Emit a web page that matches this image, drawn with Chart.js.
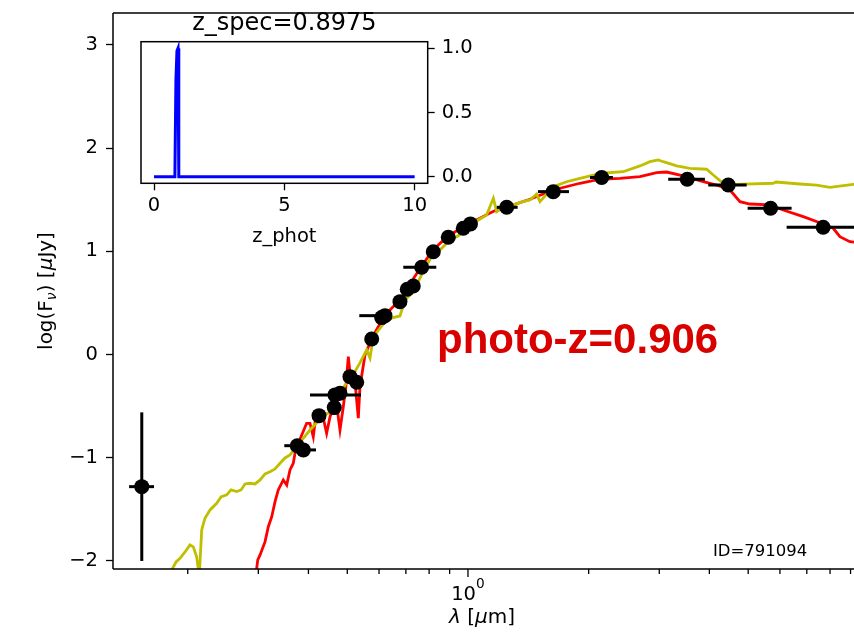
<!DOCTYPE html>
<html><head><meta charset="utf-8">
<script src="https://cdn.jsdelivr.net/npm/chart.js@4.4.0/dist/chart.umd.min.js"></script>
<style>
html,body{margin:0;padding:0;background:#fff;}
#wrap{position:relative;width:854px;height:636px;overflow:hidden;background:#fff;}
canvas{position:absolute;left:0;top:0;}
</style></head><body>
<div id="wrap"><canvas id="main" width="854" height="636" style="width:854px;height:636px"></canvas><canvas id="inset" width="854" height="636" style="width:854px;height:636px"></canvas></div>
<script>
// ---------- data ----------
const yellowLam = [0.1817,0.1870,0.1913,0.1969,0.2026,0.2065,0.2105,0.2137,0.2167,0.2208,0.2273,0.2362,0.2421,0.2502,0.2564,0.2649,0.2716,0.2779,0.2860,0.2943,0.3030,0.3118,0.3208,0.3302,0.3398,0.3497,0.3598,0.3748,0.4036,0.4349,0.4529,0.4706,0.4935,0.5078,0.5378,0.5590,0.5696,0.5805,0.6209,0.6462,0.6766,0.6966,0.7248,0.7505,0.7812,0.8132,0.8516,0.9018,0.9442,0.9829,1.041,1.113,1.157,1.179,1.237,1.297,1.363,1.428,1.483,1.512,1.632,1.762,1.902,2.155,2.439,2.685,2.844,2.983,3.069,3.315,3.578,3.938,4.090,4.332,4.679,5.772,5.862,6.729,7.406,7.991,9.139,10.06];
const yellowFlux = [-2.10,-2.010,-1.974,-1.913,-1.845,-1.864,-1.961,-2.15,-1.700,-1.586,-1.506,-1.441,-1.380,-1.360,-1.312,-1.328,-1.312,-1.254,-1.247,-1.254,-1.215,-1.157,-1.135,-1.109,-1.053,-1.002,-0.973,-0.886,-0.731,-0.595,-0.556,-0.440,-0.295,-0.246,-0.081,0.045,-0.033,0.173,0.316,0.355,0.374,0.529,0.597,0.703,0.839,0.955,1.014,1.110,1.149,1.207,1.285,1.353,1.515,1.385,1.440,1.450,1.479,1.498,1.556,1.482,1.627,1.675,1.708,1.757,1.772,1.828,1.869,1.886,1.869,1.828,1.805,1.796,1.740,1.660,1.650,1.660,1.672,1.653,1.643,1.621,1.650,1.663];

const redLam = [0.2961,0.2990,0.3030,0.3118,0.3177,0.3240,0.3302,0.3364,0.3462,0.3531,0.3598,0.3667,0.3703,0.3774,0.3959,0.4036,0.4113,0.4177,0.4323,0.4441,0.4529,0.4686,0.4795,0.4887,0.4964,0.5030,0.5108,0.5227,0.5327,0.5378,0.5535,0.5762,0.6209,0.6766,0.7166,0.7635,0.8180,0.8916,0.9829,1.071,1.135,1.202,1.297,1.428,1.632,1.902,2.134,2.393,2.685,2.955,3.130,3.443,3.863,4.172,4.503,4.768,5.049,5.664,6.113,6.859,7.548,8.147,8.465,8.965,10.06];
const redFlux = [-2.12,-1.990,-1.942,-1.813,-1.668,-1.571,-1.425,-1.312,-1.215,-1.264,-1.118,-1.053,-0.956,-0.860,-0.666,-0.666,-0.796,-0.585,-0.556,-0.763,-0.602,-0.440,-0.731,-0.505,-0.295,-0.020,-0.275,-0.266,-0.617,-0.311,-0.004,0.161,0.384,0.529,0.684,0.849,1.014,1.149,1.246,1.321,1.372,1.418,1.450,1.505,1.595,1.660,1.699,1.708,1.724,1.763,1.769,1.731,1.675,1.643,1.595,1.482,1.459,1.450,1.401,1.336,1.278,1.224,1.142,1.094,1.072];

const obsLam   = [0.1536,0.3752,0.3884,0.4250,0.4640,0.4659,0.4795,0.5078,0.5278,0.5753,0.6091,0.6209,0.6766,0.7056,0.7304,0.7665,0.8194,0.8930,0.9734,1.0144,1.249,1.632,2.155,3.523,4.458,5.686,7.69];
const obsFlux  = [-1.280,-0.883,-0.924,-0.592,-0.514,-0.391,-0.375,-0.214,-0.268,0.151,0.358,0.377,0.513,0.633,0.665,0.846,0.997,1.137,1.224,1.266,1.427,1.579,1.716,1.699,1.643,1.418,1.234];
const obsLamLo = [0.1428,0.3482,0.372,0.418,0.456,0.4036,0.472,0.500,0.520,0.566,0.600,0.5357,0.666,0.695,0.720,0.6897,0.808,0.881,0.962,1.000,1.18,1.495,2.015,3.158,3.975,4.984,6.234];
const obsLamHi = [0.1648,0.395,0.4178,0.432,0.472,0.5409,0.487,0.515,0.536,0.585,0.618,0.6389,0.687,0.716,0.741,0.8335,0.831,0.905,0.985,1.028,1.33,1.786,2.299,3.899,4.955,6.415,9.5];
const obsFluxErr = [0.72,0,0,0,0,0,0,0,0,0,0,0,0,0,0,0,0,0,0,0,0,0,0,0,0,0,0];

const pdfZ = [0, 0.80, 0.84, 0.88, 0.92, 0.95, 10];
const pdfP = [0, 0, 0.75, 0.98, 1.0, 0, 0];

const yTicks = [-2, -1, 0, 1, 2, 3];
const xMajorTicks = [1];
const xMinorTicks = [0.2,0.3,0.4,0.5,0.6,0.7,0.8,0.9,2,3,4,5,6,7,8,9];
const insetXTicks = [0, 5, 10];
const insetYTicks = [0, 0.5, 1.0];

const X_MIN = 0.1302, X_MAX = 9.18, Y_MIN = -2.078, Y_MAX = 3.31;
const ZX_MIN = -0.5, ZX_MAX = 10.5, ZY_MIN = -0.05, ZY_MAX = 1.05;

// ---------- helpers ----------
const FONT = 'DejaVu Sans';
function drawPieces(ctx, pieces, cx, baseline){
  let total = 0;
  pieces.forEach(p=>{ctx.font=p.f; p.w=ctx.measureText(p.t).width; total+=p.w;});
  let x = cx - total/2;
  ctx.textAlign='left'; ctx.textBaseline='alphabetic';
  pieces.forEach(p=>{ctx.font=p.f; ctx.fillText(p.t, x, baseline + (p.dy||0)); x+=p.w;});
}
const toXY = (xs, ys) => xs.map((x,i)=>({x:x, y:ys[i]}));
function noPad(s){ s.paddingTop=0; s.paddingBottom=0; s.paddingLeft=0; s.paddingRight=0; }

// ---------- main chart ----------
const mainDecor = {
  id:'mainDecor',
  beforeDatasetDraw(chart, args){
    if(args.index !== 2) return;
    const ctx = chart.ctx, xs = chart.scales.x, ys = chart.scales.y, a = chart.chartArea;
    ctx.save();
    ctx.beginPath(); ctx.rect(a.left, a.top, a.right-a.left, a.bottom-a.top); ctx.clip();
    ctx.strokeStyle='#000'; ctx.lineWidth=3; ctx.lineCap='butt';
    obsLam.forEach((l,i)=>{
      const py = ys.getPixelForValue(obsFlux[i]);
      ctx.beginPath();
      ctx.moveTo(xs.getPixelForValue(obsLamLo[i]), py);
      ctx.lineTo(xs.getPixelForValue(obsLamHi[i]), py);
      ctx.stroke();
      if(obsFluxErr[i]>0){
        const px = xs.getPixelForValue(l);
        ctx.beginPath();
        ctx.moveTo(px, ys.getPixelForValue(obsFlux[i]-obsFluxErr[i]));
        ctx.lineTo(px, ys.getPixelForValue(obsFlux[i]+obsFluxErr[i]));
        ctx.stroke();
      }
    });
    ctx.restore();
  },
  afterDraw(chart){
    const ctx = chart.ctx, xs = chart.scales.x, ys = chart.scales.y, a = chart.chartArea;
    ctx.save();
    ctx.strokeStyle='#000'; ctx.lineWidth=1.5;
    ctx.beginPath();
    ctx.moveTo(a.left, a.top); ctx.lineTo(a.right+2, a.top);
    ctx.moveTo(a.left, a.top); ctx.lineTo(a.left, a.bottom);
    ctx.moveTo(a.left, a.bottom); ctx.lineTo(a.right+2, a.bottom);
    ctx.stroke();
    ctx.lineWidth=1.3;
    xMajorTicks.forEach(v=>{const p=xs.getPixelForValue(v); ctx.beginPath(); ctx.moveTo(p,a.bottom); ctx.lineTo(p,a.bottom+8); ctx.stroke();});
    xMinorTicks.forEach(v=>{const p=xs.getPixelForValue(v); ctx.beginPath(); ctx.moveTo(p,a.bottom); ctx.lineTo(p,a.bottom+5); ctx.stroke();});
    ctx.fillStyle='#000';
    xMajorTicks.forEach(v=>{
      const p=xs.getPixelForValue(v);
      ctx.font='19.5px '+FONT; const w1=ctx.measureText('10').width;
      ctx.font='13.7px '+FONT; const w2=ctx.measureText('0').width;
      const x0=p-(w1+w2)/2;
      ctx.textAlign='left'; ctx.textBaseline='alphabetic';
      ctx.font='19.5px '+FONT; ctx.fillText('10', x0, a.bottom+31);
      ctx.font='13.7px '+FONT; ctx.fillText('0', x0+w1, a.bottom+19);
    });
    drawPieces(ctx,[
      {t:'\u03bb', f:'italic 20px '+FONT},
      {t:' [', f:'20px '+FONT},
      {t:'\u03bc', f:'italic 20px '+FONT},
      {t:'m]', f:'20px '+FONT}
    ], 482, 623);
    ctx.save();
    ctx.translate(51.5, (a.top+a.bottom)/2);
    ctx.rotate(-Math.PI/2);
    drawPieces(ctx,[
      {t:'log(F', f:'20px '+FONT},
      {t:'\u03bd', f:'italic 14px '+FONT, dy:4},
      {t:') [', f:'20px '+FONT},
      {t:'\u03bc', f:'italic 20px '+FONT},
      {t:'Jy]', f:'20px '+FONT}
    ], 0, 0);
    ctx.restore();
    ctx.textAlign='left'; ctx.textBaseline='alphabetic';
    ctx.fillStyle='#d90000';
    ctx.font='bold 42px "Liberation Sans", Arial, sans-serif';
    ctx.fillText('photo-z=0.906', xs.getPixelForValue(0.837), ys.getPixelForValue(0.016));
    ctx.fillStyle='#000';
    ctx.font='16.5px '+FONT;
    ctx.fillText('ID=791094', xs.getPixelForValue(4.083), ys.getPixelForValue(-1.952));
    ctx.restore();
  }
};

new Chart(document.getElementById('main'), {
  type:'scatter',
  data:{datasets:[
    {data:toXY(redLam, redFlux), showLine:true, borderColor:'#ff0000', borderWidth:2.8, pointRadius:0, tension:0, order:3},
    {data:toXY(yellowLam, yellowFlux), showLine:true, borderColor:'#bfbf00', borderWidth:2.8, pointRadius:0, tension:0, order:2},
    {data:toXY(obsLam, obsFlux), showLine:false, backgroundColor:'#000', borderColor:'#000', borderWidth:0, pointRadius:7.5, pointHoverRadius:7.5, order:1}
  ]},
  options:{
    responsive:false, animation:false, devicePixelRatio:1,
    layout:{autoPadding:false, padding:{left:0, right:0, top:13, bottom:0}},
    plugins:{legend:{display:false}, tooltip:{enabled:false}},
    scales:{
      x:{type:'logarithmic', min:X_MIN, max:X_MAX,
        grid:{display:false}, border:{display:false}, ticks:{display:false},
        afterBuildTicks:(s)=>{s.ticks = xMajorTicks.concat(xMinorTicks).sort((a,b)=>a-b).map(v=>({value:v}));},
        afterFit:(s)=>{s.height = 67; noPad(s);}},
      y:{type:'linear', min:Y_MIN, max:Y_MAX,
        grid:{display:true, drawOnChartArea:false, drawTicks:true, tickLength:7, tickColor:'#000', tickWidth:1.3},
        border:{display:false},
        ticks:{color:'#000', font:{family:FONT, size:19.5}, padding:8,
          callback:(v)=> (v<0 ? '\u2212'+Math.abs(v) : ''+v)},
        afterBuildTicks:(s)=>{s.ticks = yTicks.map(v=>({value:v}));},
        afterFit:(s)=>{s.width = 113; noPad(s);}}
    }
  },
  plugins:[mainDecor]
});

// ---------- inset chart ----------
const insetDecor = {
  id:'insetDecor',
  beforeDraw(chart){
    const ctx=chart.ctx, a=chart.chartArea;
    ctx.save(); ctx.fillStyle='#fff'; ctx.fillRect(a.left,a.top,a.right-a.left,a.bottom-a.top); ctx.restore();
  },
  afterDraw(chart){
    const ctx=chart.ctx, a=chart.chartArea;
    ctx.save();
    ctx.strokeStyle='#000'; ctx.lineWidth=1.5;
    ctx.strokeRect(a.left,a.top,a.right-a.left,a.bottom-a.top);
    ctx.fillStyle='#000'; ctx.textAlign='center'; ctx.textBaseline='alphabetic';
    ctx.font='24px '+FONT;
    ctx.fillText('z_spec=0.8975', (a.left+a.right)/2, 29.5);
    ctx.font='19.5px '+FONT;
    ctx.fillText('z_phot', (a.left+a.right)/2, 241.5);
    ctx.restore();
  }
};

new Chart(document.getElementById('inset'), {
  type:'scatter',
  data:{datasets:[
    {data:toXY(pdfZ, pdfP), showLine:true, borderColor:'#0000ff', borderWidth:3, pointRadius:0, tension:0}
  ]},
  options:{
    responsive:false, animation:false, devicePixelRatio:1,
    layout:{autoPadding:false, padding:{left:141, right:376.3, top:41.7, bottom:392.7}},
    plugins:{legend:{display:false}, tooltip:{enabled:false}},
    scales:{
      x:{type:'linear', min:ZX_MIN, max:ZX_MAX,
        grid:{display:true, drawOnChartArea:false, drawTicks:true, tickLength:7, tickColor:'#000', tickWidth:1.3},
        border:{display:false},
        ticks:{color:'#000', font:{family:FONT, size:19.5}, padding:4, maxRotation:0},
        afterBuildTicks:(s)=>{s.ticks = insetXTicks.map(v=>({value:v}));},
        afterFit:(s)=>{s.height = 60; noPad(s);}},
      y:{type:'linear', position:'right', min:ZY_MIN, max:ZY_MAX,
        grid:{display:true, drawOnChartArea:false, drawTicks:true, tickLength:7, tickColor:'#000', tickWidth:1.3},
        border:{display:false},
        ticks:{color:'#000', font:{family:FONT, size:19.5}, padding:7,
          callback:(v)=>Number(v).toFixed(1)},
        afterBuildTicks:(s)=>{s.ticks = insetYTicks.map(v=>({value:v}));},
        afterFit:(s)=>{s.width = 50; noPad(s);}}
    }
  },
  plugins:[insetDecor]
});
</script>
</body></html>
